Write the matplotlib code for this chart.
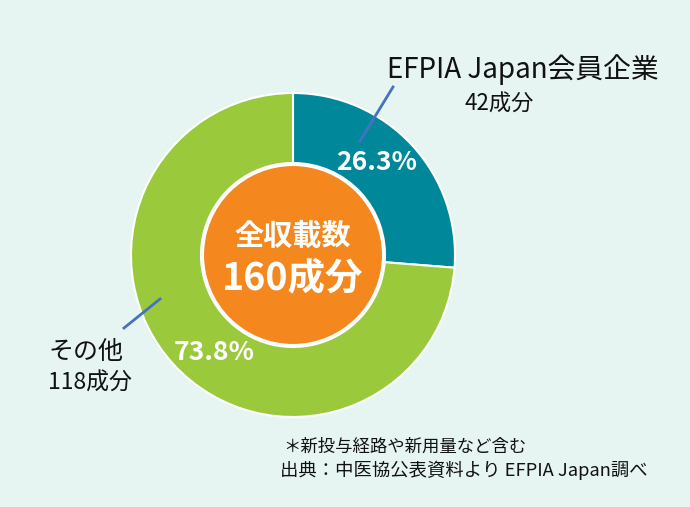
import matplotlib.pyplot as plt

plt.rcParams['font.family'] = ['Noto Sans CJK JP', 'DejaVu Sans']

labels = ["EFPIA Japan会員企業", "その他"]
counts = [42, 118]
pct_labels = ["26.3%", "73.8%"]
total = sum(counts)
colors = ["#00889a", "#9bc93c"]

bg = "#e6f5f2"
fig = plt.figure(figsize=(6.9, 5.07), dpi=100, facecolor=bg)
ax = fig.add_axes([0, 0, 1, 1])
ax.set_facecolor(bg)

H = 507
cx, cy = 293, H - 255
R = 162

wedges, _ = ax.pie(counts, colors=colors, startangle=90, counterclock=False,
                   center=(cx, cy), radius=R,
                   wedgeprops=dict(width=70, edgecolor="white", linewidth=1.5))
circ = plt.Circle((cx, cy), 90, facecolor="#f5871f", edgecolor="white", linewidth=1.5, zorder=3)
ax.add_patch(circ)

ax.set_xlim(0, 690)
ax.set_ylim(0, H)
ax.set_aspect("equal")
ax.axis("off")

ax.text(377, H - 162, pct_labels[0], color="white", fontsize=19, fontweight="bold",
        ha="center", va="center", zorder=4)
ax.text(214, H - 353, pct_labels[1], color="white", fontsize=19, fontweight="bold",
        ha="center", va="center", zorder=4)

ax.text(cx, H - 236, "全収載数", color="white", fontsize=21, fontweight="bold",
        ha="center", va="center", zorder=4)
ax.text(cx, H - 278, f"{total}成分", color="white", fontsize=27, fontweight="bold",
        ha="center", va="center", zorder=4)

# leader lines
ax.plot([393, 360], [H - 87, H - 141], color="#4472c4", linewidth=2, zorder=5)
ax.plot([160, 124], [H - 299, H - 328], color="#4472c4", linewidth=2, zorder=5)

ax.text(523, H - 70, labels[0], fontsize=20, ha="center", va="center", color="#111111")
ax.text(499, H - 104, f"{counts[0]}成分", fontsize=16, ha="center", va="center", color="#111111")
ax.text(86, H - 352, labels[1], fontsize=18, ha="center", va="center", color="#111111")
ax.text(90, H - 383, f"{counts[1]}成分", fontsize=16.5, ha="center", va="center", color="#111111")

ax.text(283, H - 447, "＊新投与経路や新用量など含む", fontsize=12.5, ha="left", va="center", color="#111111")
ax.text(280, H - 470, "出典：中医協公表資料より EFPIA Japan調べ", fontsize=13.2, ha="left", va="center",
        color="#111111")

fig.savefig("out.png", dpi=100, facecolor=bg)
